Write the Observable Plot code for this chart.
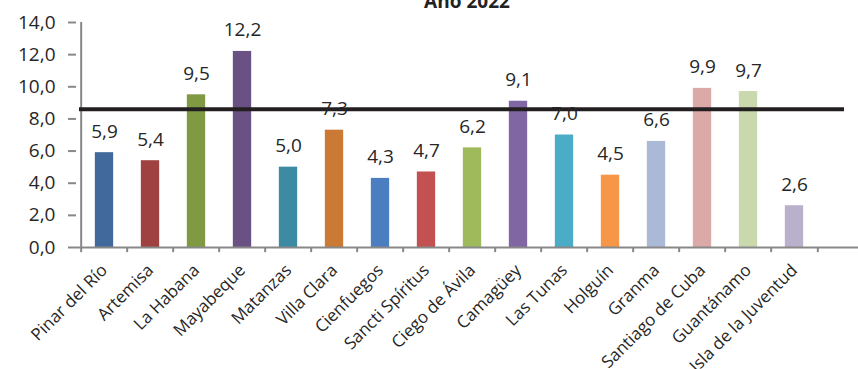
<!DOCTYPE html>
<html>
<head>
<meta charset="utf-8">
<script src="https://cdn.jsdelivr.net/npm/d3@7"></script>
<script src="https://cdn.jsdelivr.net/npm/@observablehq/plot@0.6"></script>
<style>
  html, body { margin: 0; padding: 0; background: #fff; }
  #wrap { position: relative; width: 858px; height: 369px; overflow: hidden; }
  #title { position: absolute; top: -12px; left: 367px; width: 200px; text-align: center;
    font: bold 19px "Open Sans", sans-serif; color: #222; }
</style>
</head>
<body>
<div id="wrap"><div id="title">Año 2022</div></div>
<script>
const provinces = ["Pinar del Río","Artemisa","La Habana","Mayabeque","Matanzas","Villa Clara","Cienfuegos","Sancti Spíritus","Ciego de Ávila","Camagüey","Las Tunas","Holguín","Granma","Santiago de Cuba","Guantánamo","Isla de la Juventud"];
const values = [5.9,5.4,9.5,12.2,5.0,7.3,4.3,4.7,6.2,9.1,7.0,4.5,6.6,9.9,9.7,2.6];
const colors = ["#41699B","#9E4140","#7F9A43","#6A5183","#3C8BA3","#CB7A35","#4A7EC1","#C35151","#9FBA5A","#8066A2","#4AACC6","#F79646","#AAB9D6","#DBA9A8","#C9D9AD","#B9B0CB"];
const average = 8.6;
const yTicks = [0,2,4,6,8,10,12,14];

const data = provinces.map((p, i) => ({province: p, value: values[i], color: colors[i]}));
const fmt = d => d.toFixed(1).replace(".", ",");
const band = (822.7 - 76) / provinces.length;
const inset = (band - 19) / 2;
const font = "'Open Sans', sans-serif";

const chart = Plot.plot({
  width: 858,
  height: 369,
  marginLeft: 76,
  marginRight: 0,
  marginTop: 22,
  marginBottom: 122,
  style: {fontFamily: font, color: "#262626", background: "transparent", overflow: "visible"},
  x: {domain: provinces, range: [76, 822.7], padding: 0, label: null},
  y: {domain: [0, 14], label: null},
  marks: [
    Plot.barY(data, {x: "province", y: "value", fill: "color", insetLeft: inset, insetRight: inset}),
    Plot.ruleY([0], {stroke: "#888", strokeWidth: 2}),
    // y axis line
    Plot.ruleX([provinces[0]], {x: d => d, y1: 0, y2: 14, dx: -band / 2, stroke: "#888", strokeWidth: 2}),
    // x category boundary ticks
    Plot.ruleX(provinces, {x: d => d, y1: 0, y2: -0.32, dx: -band / 2, stroke: "#888", strokeWidth: 2}),
    Plot.ruleX([provinces[provinces.length - 1]], {x: d => d, y1: 0, y2: -0.32, dx: band / 2, stroke: "#888", strokeWidth: 2}),
    Plot.axisY({ticks: yTicks, tickFormat: fmt, tickSize: 8, tickPadding: 13, fontSize: 19, stroke: "#888", strokeWidth: 2, label: null}),
    Plot.axisX({tickSize: 0, tickRotate: -45, tickPadding: 20, fontSize: 17, label: null}),
    Plot.ruleY([average], {stroke: "#231F20", strokeWidth: 4, insetLeft: 3, insetRight: 14}),
    Plot.text(data, {x: "province", y: "value", text: d => fmt(d.value), dy: -15, lineAnchor: "bottom", fontSize: 19, fill: "#262626"})
  ]
});
document.getElementById("wrap").prepend(chart);
</script>
</body>
</html>
